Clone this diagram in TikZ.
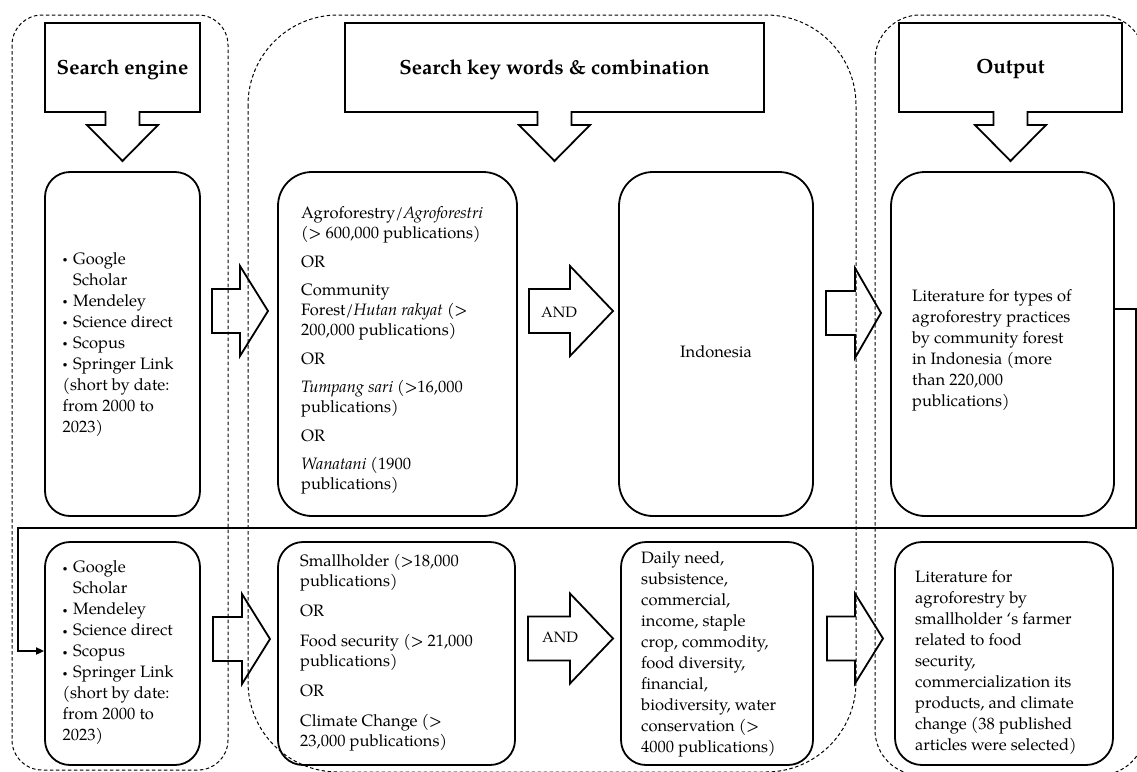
\documentclass[tikz,border=0pt]{standalone}
\usepackage{fontspec}
\setmainfont{texgyrepagella}[Extension=.otf,UprightFont=*-regular,BoldFont=*-bold,ItalicFont=*-italic,BoldItalicFont=*-bolditalic]
\usetikzlibrary{arrows.meta}
\newcommand\blockarrow[4]{\draw[blk] (#1,#4-22) -- (#2,#4-22) -- (#2,#4-45) -- (#3,#4) -- (#2,#4+45) -- (#2,#4+22) -- (#1,#4+22) -- cycle;}
\newcommand\bul{\makebox[10.5pt][l]{\raisebox{1.8pt}{\fontsize{9}{9}\selectfont\textbullet}}}
\begin{document}
\begin{tikzpicture}[x=1pt,y=-1pt,
  container/.style={draw, dash pattern=on 3.5pt off 2.5pt, line width=1pt, rounded corners=#1},
  blk/.style={draw, line width=1.8pt, line join=miter},
  rbox/.style={draw, line width=1.8pt, rounded corners=#1, inner sep=0pt},
  txt/.style={align=left, inner sep=0pt, font=\fontsize{16.5}{21}\selectfont},
  kwtxt/.style={align=left, inner sep=0pt, font=\fontsize{16.5}{20}\selectfont},
  andtxt/.style={inner sep=0pt, font=\fontsize{15}{18}\selectfont},
  headtxt/.style={inner sep=0pt, font=\fontsize{20.5}{24}\selectfont\bfseries},
  link/.style={line width=1.8pt},
]
\useasboundingbox (0,0) rectangle (1137,771);

% dashed containers
\draw[container=30pt] (12,15) rectangle (228,770);
\draw[container=90pt] (248,15) rectangle (856,772);
\draw[container=45pt] (875,15) rectangle (1145,775);

% header call-outs
\draw[blk] (45,23) -- (200,23) -- (200,112) -- (139.5,112) -- (139.5,125) -- (158,125) -- (122.5,161) -- (87,125) -- (105.5,125) -- (105.5,112) -- (45,112) -- cycle;
\draw[blk] (345,23) -- (764,23) -- (764,112) -- (571.5,112) -- (571.5,125) -- (590,125) -- (554.5,161) -- (519,125) -- (537.5,125) -- (537.5,112) -- (345,112) -- cycle;
\draw[blk] (899,23) -- (1122,23) -- (1122,112) -- (1027.5,112) -- (1027.5,125) -- (1046,125) -- (1010.5,161) -- (975,125) -- (993.5,125) -- (993.5,112) -- (899,112) -- cycle;
\node[headtxt] (h1) at (122.5,69.5) {Search engine};
\node[headtxt] (h2) at (554.5,69.5) {Search key words \& combination};
\node[headtxt] (h3) at (1010.5,69.5) {Output};

% rounded boxes
\node[rbox=25pt, minimum width=155pt, minimum height=344pt] (eng1) at (122.5,344) {};
\node[rbox=34pt, minimum width=239pt, minimum height=344pt] (kw1) at (397.5,344) {};
\node[rbox=34pt, minimum width=194pt, minimum height=344pt] (ind) at (716,344) {};
\node[rbox=34pt, minimum width=223pt, minimum height=344pt] (out1) at (1002.5,344) {};
\node[rbox=25pt, minimum width=155pt, minimum height=223pt] (eng2) at (122.5,653.5) {};
\node[rbox=25pt, minimum width=237pt, minimum height=223pt] (kw2) at (396.5,653.5) {};
\node[rbox=25pt, minimum width=192pt, minimum height=223pt] (daily) at (717,653.5) {};
\node[rbox=27pt, minimum width=218pt, minimum height=223pt] (out2) at (1004,653.5) {};

% texts
\node[txt, anchor=west] (eng1t) at (62.5,344.5) {\bul Google\\\hphantom{\bul}Scholar\\\bul Mendeley\\\bul Science direct\\\bul Scopus\\\bul Springer Link\\(short by date:\\from 2000 to\\2023)};
\node[kwtxt, anchor=west] (kw1t) at (301,350.5) {Agroforestry/\textit{Agroforestri}\\(> 600,000 publications)\\[8.5pt]OR\\[8.5pt]Community\\Forest/\textit{Hutan rakyat} (>\\200,000 publications)\\[8.5pt]OR\\[8.5pt]\textit{Tumpang sari} (>16,000\\publications)\\[8.5pt]OR\\[8.5pt]\textit{Wanatani} (1900\\publications)};
\node[txt] (indt) at (716,352) {Indonesia};
\node[txt, anchor=west] (out1t) at (912,350.5) {Literature for types of\\agroforestry practices\\by community forest\\in Indonesia (more\\than 220,000\\publications)};
\node[txt, anchor=west] (eng2t) at (62.5,653) {\bul Google\\\hphantom{\bul}Scholar\\\bul Mendeley\\\bul Science direct\\\bul Scopus\\\bul Springer Link\\(short by date:\\from 2000 to\\2023)};
\node[kwtxt, anchor=west] (kw2t) at (300,653) {Smallholder (>18,000\\publications)\\[10pt]OR\\[10pt]Food security (> 21,000\\publications)\\[10pt]OR\\[10pt]Climate Change (>\\23,000 publications)};
\node[txt, anchor=west] (dailyt) at (641,654) {Daily need,\\subsistence,\\commercial,\\income, staple\\crop, commodity,\\food diversity,\\financial,\\biodiversity, water\\conservation (>\\4000 publications)};
\node[txt, anchor=west] (out2t) at (915,662.5) {Literature for\\agroforestry by\\smallholder ‘s farmer\\related to food\\security,\\commercialization its\\products, and climate\\change (38 published\\articles were selected)};

% block arrows
\blockarrow{212}{240}{268}{311}
\blockarrow{529}{570}{613}{311}
\blockarrow{826}{855}{881}{313}
\blockarrow{213}{242}{270}{639}
\blockarrow{528}{570}{613}{638.5}
\blockarrow{827}{855}{883}{638.5}
\node[andtxt] (and1) at (559,312) {AND};
\node[andtxt] (and2) at (560,637) {AND};

% feedback connector
\coordinate (fb1) at (1136,309);
\coordinate (fb2) at (1136,528);
\coordinate (fb3) at (18,528);
\coordinate (fb4) at (18,651);
\draw[link, -{Triangle[length=8pt,width=7pt]}] (out1.east |- fb1) -- (fb1) -- (fb2) -- (fb3) -- (fb4) -- (eng2.west |- fb4);
\end{tikzpicture}
\end{document}
